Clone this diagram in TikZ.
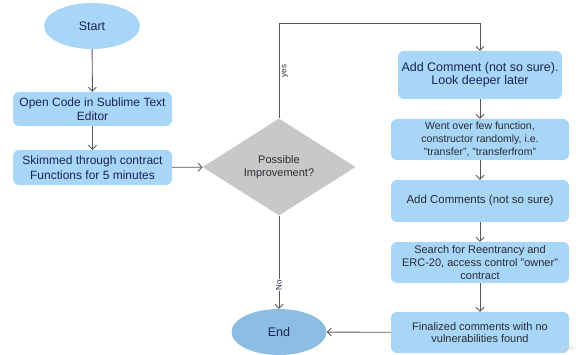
\documentclass[tikz,border=0pt]{standalone}
\usepackage{fontspec}
\setmainfont{Liberation Sans}
\usetikzlibrary{shapes.geometric,arrows.meta}
\definecolor{boxblue}{HTML}{A8D6F7}
\definecolor{endblue}{HTML}{8CBEE3}
\definecolor{dgray}{HTML}{C8C8C8}
\definecolor{navy}{HTML}{1B2452}
\definecolor{darktext}{HTML}{2A2A33}
\definecolor{linec}{HTML}{585858}
\tikzset{
  stepbox/.style={rectangle, rounded corners=6pt, fill=boxblue, draw=none, text=navy, align=center, inner sep=0pt},
  oval/.style={ellipse, draw=none, text=navy, inner sep=0pt},
  conn/.style={draw=linec, line width=0.9pt, -{Straight Barb[length=4pt,width=8pt]}},
  lbl/.style={text=navy, font=\fontsize{8}{9}\selectfont, rotate=90, inner sep=1pt}
}
\begin{document}
\begin{tikzpicture}[x=1pt,y=-1pt]
\useasboundingbox (0,0) rectangle (584,355);
\node[oval, fill=boxblue, minimum width=96pt, minimum height=46pt, font=\fontsize{12.5}{14}\selectfont] (start) at (92,26) {Start};
\node[stepbox, minimum width=159pt, minimum height=34pt, font=\fontsize{12}{14.5}\selectfont] (open) at (92.5,109) {Open Code in Sublime Text\\Editor};
\node[stepbox, minimum width=159pt, minimum height=35pt, font=\fontsize{12}{14.5}\selectfont] (skim) at (92.5,167.5) {Skimmed through contract\\Functions for 5 minutes};
\node[diamond, fill=dgray, draw=none, minimum width=153pt, minimum height=97pt, inner sep=0pt, text=darktext, align=center, font=\fontsize{11}{13}\selectfont] (dec) at (279,167) {Possible\\Improvement?};
\node[stepbox, minimum width=164pt, minimum height=48pt, font=\fontsize{12.5}{13.5}\selectfont] (c1) at (480,75) {Add Comment (not so sure).\\Look deeper later};
\node[stepbox, text=darktext, minimum width=178pt, minimum height=41pt, font=\fontsize{10.5}{13}\selectfont] (went) at (480,139.5) {Went over few function,\\constructor randomly, i.e.\\"transfer", "transferfrom"};
\node[stepbox, text=darktext, minimum width=178pt, minimum height=42pt, font=\fontsize{11.5}{13}\selectfont] (c2) at (480,201) {Add Comments (not so sure)};
\node[stepbox, text=darktext, minimum width=178pt, minimum height=41pt, font=\fontsize{11}{13}\selectfont] (search) at (480,262.5) {Search for Reentrancy and\\ERC-20, access control "owner"\\contract};
\node[stepbox, text=darktext, minimum width=178pt, minimum height=41pt, font=\fontsize{11}{12.5}\selectfont] (final) at (480,332.5) {Finalized comments with no\\vulnerabilities found};
\node[oval, fill=endblue, minimum width=95pt, minimum height=46pt, font=\fontsize{12.5}{14}\selectfont] (end) at (279,332) {End};
\coordinate (y1) at (279,23);
\coordinate (y2) at (480,23);
\draw[conn] (start) -- (open);
\draw[conn] (open) -- (skim);
\draw[conn] (skim) -- (dec);
\draw[conn] (dec.north) -- (y1) -- (y2) -- (c1.north);
\draw[conn] (c1) -- (went);
\draw[conn] (went) -- (c2);
\draw[conn] (c2) -- (search);
\draw[conn] (search) -- (final);
\draw[conn] (final) -- (end);
\draw[conn] (dec.south) -- (end.north);
\node[lbl, text=darktext] (yes) at (285,71) {yes};
\node[lbl, fill=white] (no) at (279,285) {No};
\node[text=gray!35, font=\fontsize{7}{8}\selectfont, inner sep=0pt] (miro) at (568,348) {miro};
\end{tikzpicture}
\end{document}
